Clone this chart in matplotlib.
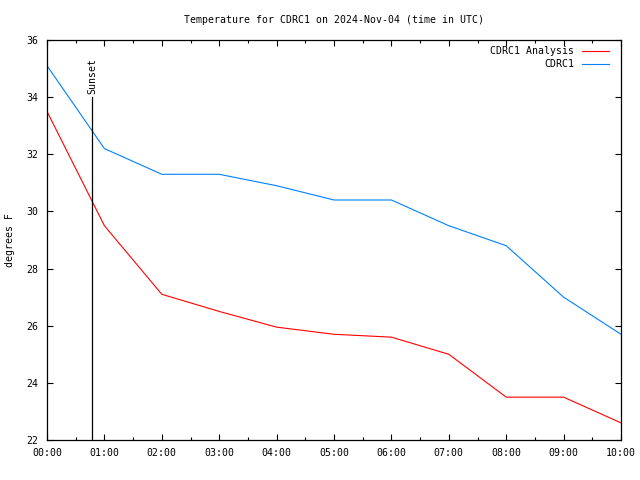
import matplotlib
matplotlib.use("Agg")
import matplotlib.pyplot as plt
from matplotlib.ticker import MultipleLocator

hours = [0, 1, 2, 3, 4, 5, 6, 7, 8, 9, 10]
analysis = [33.5, 29.5, 27.1, 26.5, 25.95, 25.7, 25.6, 25.0, 23.5, 23.5, 22.6]
obs = [35.1, 32.2, 31.3, 31.3, 30.9, 30.4, 30.4, 29.5, 28.8, 27.0, 25.7]
xtick_labels = ["00:00", "01:00", "02:00", "03:00", "04:00", "05:00",
                "06:00", "07:00", "08:00", "09:00", "10:00"]
sunset_hour = 47 / 60
sunset_top = 34.0

plt.rcParams['font.family'] = ['DejaVu Sans Mono']
fs = 7.1

fig = plt.figure(figsize=(6.4, 4.8), dpi=100)
ax = fig.add_axes([47/640, 40/480, (621-47)/640, 400/480])

ax.plot(hours, analysis, color='#ff0000', lw=0.8, label='CDRC1 Analysis')
ax.plot(hours, obs, color='#0080ff', lw=0.8, label='CDRC1')
ax.plot([sunset_hour, sunset_hour], [22, sunset_top], color='black', lw=0.9)
ax.text(sunset_hour, sunset_top + 0.1, 'Sunset', rotation=90, ha='center', va='bottom', fontsize=fs)

ax.set_xlim(0, 10)
ax.set_ylim(22, 36)
ax.set_xticks(hours)
ax.set_xticklabels(xtick_labels)
ax.xaxis.set_minor_locator(MultipleLocator(0.5))
ax.yaxis.set_major_locator(MultipleLocator(2))
ax.tick_params(which='both', direction='in', top=True, right=True, labelsize=fs, width=0.8)
ax.tick_params(which='major', length=4, pad=6)
ax.tick_params(which='minor', length=2.5)
for s in ax.spines.values():
    s.set_linewidth(0.9)

ax.set_ylabel('degrees F', fontsize=fs)
ax.yaxis.set_label_coords((15 - 47) / 574, 0.5)
ax.set_title('Temperature for CDRC1 on 2024-Nov-04 (time in UTC)', fontsize=fs, pad=12)

leg = ax.legend(loc='upper right', frameon=False, markerfirst=False, fontsize=fs,
                handlelength=2.7, handletextpad=0.8, labelspacing=0.3,
                borderpad=0, borderaxespad=0,
                bbox_to_anchor=((609 - 47) / 574, (440 - 46) / 400))
for t in leg.get_texts():
    t.set_ha('right')

fig.savefig('out.png', dpi=100)
